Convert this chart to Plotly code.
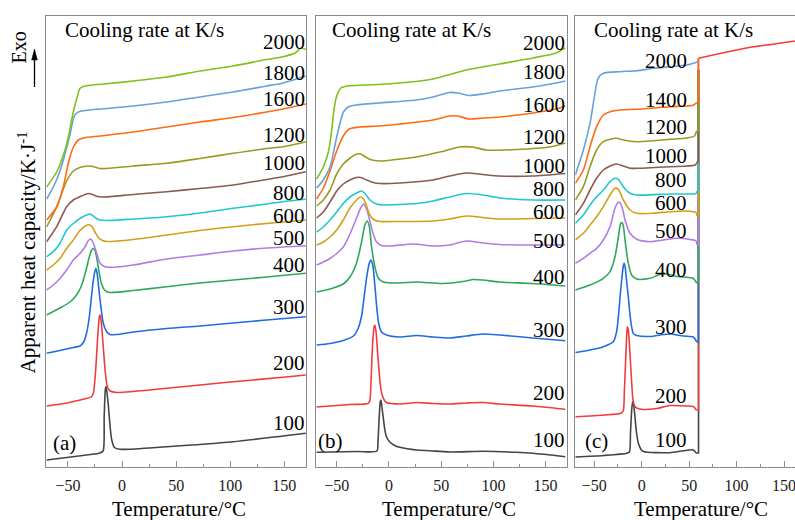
import plotly.graph_objects as go

# ---------------- DATA (temperature in degC, apparent heat capacity in arbitrary units) ----------------
# Panel (a)
a100 = [(-69.7, 7), (-40, 11), (-20.5, 14), (-17.5, 16), (-16.5, 50), (-15.4, 78), (-14.8, 80.5), (-14, 75), (-12.7, 62),
        (-11, 40), (-9.5, 27), (-7, 19.5), (-2, 17.7), (41.2, 20.3), (102.7, 25.3), (148.8, 31), (169.8, 33.7)]
a200 = [(-69.7, 61), (-51, 64), (-35, 68), (-28.5, 70), (-26.5, 74), (-24.5, 95), (-22.5, 130), (-21, 150), (-20.3, 152),
        (-19.2, 145), (-17.5, 122), (-15.5, 95), (-13.5, 80), (-11, 76), (-5, 74.5), (41.2, 78.7), (102.7, 85.3),
        (148.8, 89.7), (169.8, 92)]
a300 = [(-69.7, 113.7), (-57.4, 116.5), (-45, 119.5), (-38.9, 121), (-35.5, 125), (-33, 133), (-30.5, 148), (-28.5, 168),
        (-26.5, 187), (-25, 196), (-24.1, 198.7), (-22.8, 192), (-20.4, 168), (-17.4, 144), (-14.3, 135.5), (-11.2, 132.5),
        (-5, 132.5), (10.3, 135), (41.2, 138.5), (71.9, 141), (102.7, 144), (133.5, 147), (169.8, 150.3)]
a400 = [(-69.7, 152), (-57.4, 159), (-48.1, 165), (-42, 172), (-38, 180), (-35.8, 187), (-33, 198), (-31, 207), (-29.5, 213),
        (-28.1, 217), (-26.6, 218.5), (-25, 216.5), (-23.5, 210), (-22, 200), (-20.4, 190), (-18.9, 183), (-15.8, 176.5),
        (-11.2, 174.5), (10.3, 176.5), (41.2, 180.3), (71.9, 184), (102.7, 187), (133.5, 190), (169.8, 193.7)]
a500 = [(-69.7, 177), (-63.5, 182), (-57.4, 188.5), (-51.2, 197), (-45, 207), (-38.9, 213.5), (-34.3, 220), (-31.1, 226.5),
        (-28.9, 228), (-26.6, 224), (-23.5, 214), (-20.4, 204), (-15.8, 200.3), (-8.1, 199.7), (10.3, 202), (41.2, 208),
        (71.9, 212), (102.7, 216), (133.5, 219), (169.8, 221.3)]
a600 = [(-69.7, 197), (-63.5, 202), (-57.4, 208.5), (-51.2, 218.5), (-45, 227), (-38.9, 236.5), (-34, 241), (-30.5, 242.3),
        (-27.5, 240), (-24.5, 234), (-21.5, 229), (-18, 226.5), (-14.3, 225.5), (10.3, 227.5), (41.2, 232), (71.9, 236.5),
        (102.7, 240.3), (133.5, 243.5), (169.8, 247)]
a800 = [(-69.7, 210.3), (-63.5, 215.3), (-57.4, 223.5), (-51.2, 237), (-45, 243.5), (-38.9, 248.5), (-32.7, 252),
        (-29.6, 253), (-26.5, 251), (-23.5, 248.5), (-20.4, 247), (-14.3, 246.5), (10.3, 248), (41.2, 250.3), (71.9, 254),
        (102.7, 258.7), (133.5, 263), (148.8, 265.3), (169.8, 267.7)]
a1000 = [(-69.7, 225.3), (-60.4, 240.3), (-51.2, 260.3), (-45, 267), (-37.4, 271), (-31.1, 273.5), (-27.5, 272.5),
         (-23, 270.5), (-18, 270), (-10, 270.5), (10.3, 272.5), (41.2, 275.3), (71.9, 278.5), (102.7, 282), (133.5, 287.5),
         (148.8, 290.3), (169.8, 295.3)]
a1200 = [(-69.7, 240), (-60.4, 260.3), (-51.2, 286), (-45, 296), (-38.9, 299.5), (-31, 301), (-27, 300.5), (-21, 298.5),
         (-14, 298.5), (10.3, 301), (41.2, 303.7), (71.9, 308.5), (102.7, 313.7), (133.5, 318.5), (148.8, 320.3),
         (164.3, 323.7), (169.8, 325.3)]
a1600 = [(-69.7, 247), (-60.4, 260), (-54.3, 280), (-49.6, 304), (-45, 320), (-40.4, 327), (-35.8, 329), (-20.4, 331),
         (10.3, 335), (41.2, 340), (71.9, 345), (102.7, 349.5), (133.5, 355), (148.8, 358), (169.8, 363)]
a1800 = [(-69.7, 268), (-63.5, 280), (-57.4, 296), (-52.2, 315), (-48, 333), (-45, 348), (-42.5, 353.5), (-38.9, 355.5),
         (-30, 357), (-14.3, 358.5), (10.3, 361), (41.2, 365), (71.9, 370), (102.7, 375), (133.5, 381), (148.8, 384),
         (169.8, 391)]
a2000 = [(-69.7, 280), (-60.4, 295), (-52.7, 317), (-49, 333), (-46.6, 347), (-43.5, 362), (-41.2, 371), (-38.9, 378.5),
         (-34.3, 381), (-14.3, 383.3), (10.3, 386), (41.2, 390), (71.9, 396), (102.7, 401), (133.5, 407.5), (148.8, 410.3),
         (160, 414), (165.5, 419), (169.8, 417.5)]

# Panel (b)
b100 = [(-69.2, 14.7), (-30, 15.5), (-11.5, 16), (-10.5, 25), (-9.3, 50), (-8.3, 65), (-7.7, 67), (-6.8, 61), (-5.5, 50),
        (-4, 38), (-2.3, 30), (0.9, 25), (5.5, 21.5), (10.5, 19.7), (26.4, 17), (39, 16.3), (58, 15), (90, 15.7),
        (122, 14.7), (137.8, 13.7), (168.8, 10.3)]
b200 = [(-69.2, 60), (-37.3, 62.5), (-20, 63.5), (-18.3, 66), (-17, 90), (-15.5, 125), (-14.2, 140), (-13.4, 142),
        (-12.3, 135), (-10.5, 110), (-8.5, 85), (-7, 74), (-4.5, 67), (-2.3, 64.5), (10.5, 63), (26.4, 64.5), (42.3, 63.5),
        (58, 63), (74, 64), (90, 64.5), (106, 63), (137.8, 61), (168.8, 57.7)]
b300 = [(-69.2, 122), (-56.4, 123.5), (-43.7, 126.5), (-34, 131), (-29.3, 139), (-26, 152), (-23.5, 172), (-21.4, 189),
        (-19, 203), (-17.3, 207), (-15.5, 202), (-13.5, 182), (-11.5, 158), (-9.5, 142), (-7, 135), (-2.3, 132),
        (10.5, 130), (26.4, 131.5), (42.3, 130), (58, 129), (74, 131), (90, 133), (106, 132), (137.8, 129), (168.8, 126.3)]
b400 = [(-69.2, 175), (-56.4, 178), (-43.7, 183), (-37.3, 190), (-31, 204), (-26.2, 225), (-23, 242), (-20.8, 246),
        (-18.8, 241), (-16.6, 220), (-13.4, 200), (-10.2, 189), (-5.5, 185), (7.3, 184), (26.4, 185), (51.8, 183.5),
        (74, 186), (80.5, 187.5), (90, 187), (106, 185), (137.8, 183.5), (168.8, 181)]
b500 = [(-69.2, 202), (-62.8, 205), (-56.4, 208.5), (-50, 213.5), (-43.7, 220), (-37.3, 233), (-31, 249), (-27, 259),
        (-24.2, 263), (-21.4, 258), (-18.2, 246), (-15, 233), (-11.8, 225), (-7, 221.5), (1, 221), (23, 223), (42.3, 221),
        (58, 222), (74, 226), (90, 224), (106, 222.5), (137.8, 222), (168.8, 222)]
b600 = [(-69.2, 222), (-62.8, 225), (-56.4, 230), (-50, 237), (-43.7, 247), (-37.3, 259), (-31, 267), (-27.5, 270),
        (-24.6, 268.5), (-21.4, 261), (-18.2, 252), (-14, 247), (-8, 245.5), (10.5, 245.5), (42.3, 246), (58, 248),
        (74, 251), (90, 249.5), (106, 248), (137.8, 248.5), (168.8, 249)]
b800 = [(-69.2, 235), (-62.8, 240), (-56.4, 247), (-50, 255), (-43.7, 263.5), (-37.3, 270), (-31, 274), (-26.2, 276),
        (-23, 273.5), (-18.2, 267), (-11.8, 263), (-5.5, 262), (10.5, 262.5), (26.4, 263.5), (42.3, 266), (58, 270),
        (74, 273.5), (90, 272), (106, 269), (137.8, 267), (168.8, 267)]
b1000 = [(-69.2, 249), (-62.8, 255), (-56.4, 265), (-50, 276), (-43.7, 283), (-37.3, 287), (-31, 289.5), (-27, 289.5),
         (-21.4, 287), (-15, 284.5), (-8.7, 283.5), (10.5, 284), (42.3, 287), (58, 291), (74, 294), (90, 292.5),
         (106, 291), (137.8, 291), (168.8, 293.5)]
b1200 = [(-69.2, 261), (-62.8, 267), (-56.4, 277), (-50, 293), (-43.7, 303), (-37, 309), (-31, 313), (-27, 313),
         (-23, 310.5), (-18, 307.5), (-9, 306), (10.5, 308), (26.4, 310), (48.7, 315), (67.8, 320), (80.5, 320), (93, 317),
         (122, 317.5), (153.8, 320), (168.8, 324)]
b1600 = [(-69.2, 268), (-62.8, 279), (-56.4, 296), (-50, 316), (-43.7, 331), (-38, 338), (-28, 340), (-10, 341),
         (10.5, 343), (42.3, 347), (58, 351), (66, 351), (77, 348), (90, 349), (106, 350), (137.8, 354), (160, 358),
         (168.8, 361)]
b1800 = [(-69.2, 279), (-62.8, 287), (-56.4, 300), (-53, 315), (-50, 330), (-46, 347), (-43.5, 355), (-39, 360), (-31, 362),
         (-10, 364), (26.4, 367), (42.3, 370), (58, 374.5), (66, 374), (76, 371.5), (90, 373), (106, 376), (137.8, 380),
         (160, 384), (168.8, 386)]
b2000 = [(-69.2, 288), (-62.8, 300), (-58, 315), (-55, 335), (-52.5, 358), (-50, 371), (-46, 379), (-40, 381),
         (-21.4, 382), (10.5, 384), (42.3, 388), (74.2, 397), (106, 403), (137.8, 409), (160, 414), (168.8, 419)]

# Panel (c)
c100 = [(-70, 10), (-40, 11.5), (-15.8, 13.7), (-13, 15), (-11.8, 35), (-10.3, 60), (-9.5, 65.3), (-8.5, 62), (-7.1, 50),
        (-5.3, 33), (-3.5, 23.7), (-1, 18), (1.7, 15.5), (29.8, 14.3), (43.9, 16.3), (54.4, 17), (57.3, 14)]
c200 = [(-70, 50.3), (-40, 52), (-22, 53.7), (-19.5, 56), (-18.3, 75), (-17, 105), (-15.8, 132), (-15.1, 140.3),
        (-14.1, 137), (-12.3, 112), (-10.6, 85), (-9.3, 68), (-7.5, 61), (-5.3, 59), (1.7, 57.5), (15.8, 58.5),
        (29.8, 61.5), (43.9, 61), (54.4, 60.5), (57.5, 57)]
c300 = [(-70, 114.5), (-54.5, 117), (-40.4, 120.3), (-29.9, 125.3), (-26.5, 135), (-24.6, 150), (-22.8, 170), (-21.1, 187),
        (-19.4, 201), (-18.6, 204), (-17.6, 201), (-15.8, 185), (-14.1, 170), (-12.3, 152), (-10.6, 140), (-8.8, 133.5),
        (-5.3, 131.5), (8.8, 130.5), (22.8, 132.5), (29.8, 133), (43.9, 131), (54.4, 130), (58, 125)]
c400 = [(-70, 177), (-54.5, 182), (-40.4, 188.7), (-33.4, 195.3), (-28.2, 210), (-24.6, 230), (-22.2, 243.5),
        (-20.7, 244.5), (-19.2, 240), (-17.6, 227), (-14.1, 203.7), (-10.6, 192), (-5.3, 188), (8.8, 188.7),
        (22.8, 193.5), (36.9, 190.5), (54.4, 188.5), (58, 184)]
c500 = [(-70, 203.7), (-61.5, 208.7), (-54.5, 213.7), (-47.5, 218.7), (-40.4, 227), (-33.4, 240.3), (-28.2, 258.7),
        (-24.6, 264.7), (-22.4, 263.7), (-19.4, 255), (-17.6, 247), (-12.3, 233.7), (-5.3, 227.7), (8.8, 225.3),
        (22.8, 227), (36.9, 228.7), (50.9, 227.5), (57.3, 226), (58.3, 222)]
c600 = [(-70, 227), (-61.5, 233.7), (-54.5, 242), (-47.5, 250.3), (-40.4, 260.3), (-33.4, 272), (-28.2, 278.7),
        (-24.6, 277.7), (-19.4, 267), (-12.3, 257), (-5.3, 253.7), (12.3, 253.7), (29.8, 255.3), (47.4, 256),
        (57.3, 254.3), (58.3, 251)]
c800 = [(-70, 243.7), (-61.5, 252), (-54.5, 262), (-47.5, 270.3), (-40.4, 277), (-33.4, 285.3), (-28.2, 288.7),
        (-24.6, 287.7), (-19.4, 280.3), (-12.3, 273.7), (-5.3, 272), (29.8, 273), (57.3, 273.7), (58.5, 276)]
c1000 = [(-70, 252), (-61.5, 263.7), (-54.5, 277), (-47.5, 288.7), (-40.4, 297), (-33.4, 301), (-26.4, 303), (-19.4, 301),
         (-12.3, 298.7), (-5.3, 298.7), (29.8, 300.3), (56.4, 302), (58.5, 305)]
c1200 = [(-70, 267), (-61.5, 280.3), (-54.5, 300.3), (-47.5, 317), (-40.4, 325.3), (-33.4, 327.7), (-26.4, 328.7),
         (-19.4, 327), (-5.3, 325.3), (12.3, 326.3), (29.8, 327.7), (47.4, 329), (55.7, 331), (57.8, 336)]
c1400 = [(-70, 283.7), (-61.5, 297), (-54.5, 320.3), (-47.5, 340.3), (-40.4, 352), (-33.4, 355.3), (-22.9, 357),
         (-5.3, 357.7), (29.8, 360.3), (47.4, 361), (55, 362), (57, 364)]
c2000 = [(-70, 292), (-61.5, 317), (-54.5, 343.7), (-49.3, 373.7), (-46, 388.7), (-40.4, 393.7), (-22.9, 395.3),
         (-5.3, 396.3), (12.3, 398.7), (29.8, 400.3), (47.4, 402), (59.7, 405.3)]
# the step at the end of the (c) scans: temperature of the step and the value it reaches
c_step_rates = ['100', '200', '300', '400', '500', '600', '800', '1000', '1200', '1400']
c_step_T = [59.9, 59.9, 59.7, 59.8, 59.6, 59.8, 59.6, 59.7, 59.9, 59.6]
c_step_top = [397, 408.7, 397, 397, 397, 397, 397, 397, 397, 408.7]
c200_after = [(59.9, 408.7), (80, 413), (100, 417), (120, 420.5), (140, 423), (161.6, 426)]

a_rates = ['100', '200', '300', '400', '500', '600', '800', '1000', '1200', '1600', '1800', '2000']
b_rates = ['100', '200', '300', '400', '500', '600', '800', '1000', '1200', '1600', '1800', '2000']
c_rates = ['100', '200', '300', '400', '500', '600', '800', '1000', '1200', '1400', '2000']
a_curves = [a100, a200, a300, a400, a500, a600, a800, a1000, a1200, a1600, a1800, a2000]
b_curves = [b100, b200, b300, b400, b500, b600, b800, b1000, b1200, b1600, b1800, b2000]
c_curves = [c100, c200, c300, c400, c500, c600, c800, c1000, c1200, c1400, c2000]

# ---------------- STYLE / LAYOUT ----------------
W, H = 795, 520
FONT = "Liberation Serif"
COL = {'100': '#454545', '200': '#F03C3C', '300': '#1F6CE0', '400': '#2EA85A', '500': '#B07CE6',
       '600': '#D2A017', '800': '#1FC8CF', '1000': '#8A5A52', '1200': '#9A9A1E', '1400': '#FF6A12',
       '1600': '#FF6A12', '1800': '#6A9FDA', '2000': '#7CC21B'}
COL_C = dict(COL)
COL_C['2000'] = '#6A9FDA'

def fx(px):
    return px / W

def fy(py):
    return 1 - py / H

Y_TOP, Y_BOT = 16, 467
panels = [
    dict(name='a', dom=(46.3, 306.0), rng=[-70, 170]),
    dict(name='b', dom=(315.8, 566.5), rng=[-70, 170]),
    dict(name='c', dom=(575.3, 795.0), rng=[-70, 161.6]),
]

fig = go.Figure()
LW = 1.6

def add_curve(pts, color, xa, ya, shape='spline'):
    fig.add_trace(go.Scatter(x=[p[0] for p in pts], y=[p[1] for p in pts], mode='lines',
                             line=dict(color=color, width=LW, shape=shape, smoothing=0.7),
                             xaxis=xa, yaxis=ya, showlegend=False, hoverinfo='skip'))

for rate, pts in zip(a_rates, a_curves):
    add_curve(pts, COL[rate], 'x', 'y')
for rate, pts in zip(b_rates, b_curves):
    add_curve(pts, COL[rate], 'x2', 'y2')
for rate, pts in zip(c_rates, c_curves):
    add_curve(pts, COL_C[rate], 'x3', 'y3')
    if rate in c_step_rates:
        i = c_step_rates.index(rate)
        step = [pts[-1], (c_step_T[i], pts[-1][1]), (c_step_T[i], c_step_top[i])]
        add_curve(step, COL_C[rate], 'x3', 'y3', shape='linear')
        if rate == '200':
            add_curve(c200_after, COL_C[rate], 'x3', 'y3')

AX = '#8a8a8a'
for i, p in enumerate(panels):
    sfx = '' if i == 0 else str(i + 1)
    xdom = [fx(p['dom'][0]), fx(p['dom'][1])]
    fig.layout['xaxis' + sfx] = dict(
        domain=xdom, range=p['rng'], anchor='y' + sfx, showgrid=False, zeroline=False,
        showline=True, linecolor=AX, linewidth=1, mirror=True,
        ticks='inside', ticklen=6, tickcolor=AX, tickwidth=1, tick0=0, dtick=50,
        minor=dict(ticks='inside', ticklen=3, tickcolor=AX, dtick=25, tick0=0, showgrid=False),
        tickfont=dict(family=FONT, size=16, color='#1a1a1a'), ticklabelstandoff=4,
        ticklabeloverflow='allow',
    )
    fig.layout['yaxis' + sfx] = dict(
        domain=[fy(Y_BOT), fy(Y_TOP)], range=[0, Y_BOT - Y_TOP], anchor='x' + sfx,
        showgrid=False, zeroline=False, showline=True, linecolor=AX, linewidth=1,
        mirror=(i < 2), showticklabels=False, ticks='',
    )

ann = []

def txt(s, px, py, size=21, xanchor='center', yanchor='middle', angle=0):
    ann.append(dict(text=s, x=fx(px), y=fy(py), xref='paper', yref='paper', showarrow=False,
                    xanchor=xanchor, yanchor=yanchor, textangle=angle,
                    font=dict(family=FONT, size=size, color='black')))

# header, panel tags and x titles
for px in (63.3, 330.0, 591.7):
    txt('Cooling rate at K/s', px, 29.5, xanchor='left')
txt('(a)', 64.3, 442.5)
txt('(b)', 330.5, 440.5)
txt('(c)', 596.5, 441)
for px in (179, 449, 701):
    txt('Temperature/°C', px, 509)

# rate labels
a_lab_y = [423.3, 363.3, 306.7, 265, 238.5, 215.5, 192.7, 163.3, 135, 99, 73.3, 41.7]
b_lab_y = [440, 393.3, 330, 276.7, 240.5, 212, 189, 166.2, 136.7, 105, 71.7, 43.3]
c_lab_y = [440, 396, 326.5, 270.4, 231.2, 203, 179.6, 156.2, 127.2, 100.4, 60.9]
for rates, ys, rx in ((a_rates, a_lab_y, 306.5), (b_rates, b_lab_y, 566.5), (c_rates, c_lab_y, 688.5)):
    for r, py in zip(rates, ys):
        txt(r, rx, py, xanchor='right')

# y title and Exo label
txt('Apparent heat capacity/K·J<sup>-1</sup>', 26.5, 253, angle=-90)
txt('Exo', 18.5, 48, size=20, angle=-90)

# Exo arrow drawn as a line plus a filled head
shapes = [
    dict(type='line', xref='paper', yref='paper', x0=fx(34.5), x1=fx(34.5), y0=fy(87), y1=fy(58),
         line=dict(color='black', width=1.3)),
    dict(type='path', xref='paper', yref='paper', fillcolor='black', line=dict(color='black', width=0.5),
         path='M {:.5f},{:.5f} L {:.5f},{:.5f} L {:.5f},{:.5f} Z'.format(
             fx(34.5), fy(49), fx(31.6), fy(60), fx(37.4), fy(60))),
]

fig.update_layout(width=W, height=H, margin=dict(l=0, r=0, t=0, b=0), paper_bgcolor='white',
                  plot_bgcolor='white', annotations=ann, shapes=shapes, showlegend=False,
                  font=dict(family=FONT, size=16, color='black'))

fig.write_html("out.html", config={'displayModeBar': False},
               post_script="document.body.style.margin='0px';document.body.style.padding='0px';"
                           "document.body.style.overflow='hidden';")
